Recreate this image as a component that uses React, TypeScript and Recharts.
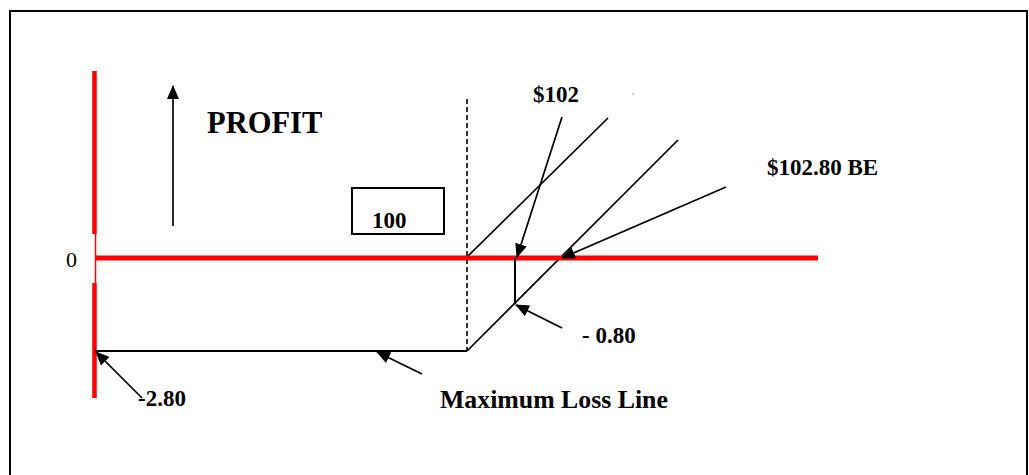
import React from 'react';
import { LineChart, Line, XAxis, YAxis, ReferenceArea, ReferenceDot } from 'recharts';

// Diagram units: 1 unit = 10 px in both directions; y = 0 is the zero-profit line.
type Pt = { x: number; y: number };

const redAxisUpper: Pt[] = [{ x: 9.45, y: 18.7 }, { x: 9.45, y: 2.4 }];
const redAxisGap: Pt[] = [{ x: 9.55, y: 2.4 }, { x: 9.55, y: -2.5 }];
const redAxisLower: Pt[] = [{ x: 9.45, y: -2.5 }, { x: 9.45, y: -14.0 }];
const zeroLine: Pt[] = [{ x: 9.6, y: 0 }, { x: 81.8, y: 0 }];
const maxLossLine: Pt[] = [{ x: 9.5, y: -9.3 }, { x: 46.7, y: -9.3 }];
const payoffLine: Pt[] = [{ x: 46.7, y: -9.3 }, { x: 67.8, y: 11.8 }];
const premiumFreeLine: Pt[] = [{ x: 46.7, y: 0.1 }, { x: 60.8, y: 14.0 }];
const strikeDash: Pt[] = [{ x: 46.7, y: 15.9 }, { x: 46.7, y: -9.3 }];
const atStrike102: Pt[] = [{ x: 51.5, y: 0 }, { x: 51.5, y: -4.6 }];

const profitArrow: Pt[] = [{ x: 17.3, y: 3.2 }, { x: 17.3, y: 17.2 }];
const arrow102: Pt[] = [{ x: 56.2, y: 14.1 }, { x: 51.7, y: 0.1 }];
const arrowBE: Pt[] = [{ x: 72.6, y: 7.1 }, { x: 56.2, y: 0 }];
const arrow080: Pt[] = [{ x: 56.2, y: -7.0 }, { x: 51.6, y: -4.7 }];
const arrowMaxLoss: Pt[] = [{ x: 42.2, y: -11.6 }, { x: 37.7, y: -9.4 }];
const arrow280: Pt[] = [{ x: 14.2, y: -14.0 }, { x: 9.6, y: -9.4 }];

const labelTexts = ['$102', '$102.80 BE', '- 0.80', '-2.80', 'Maximum Loss Line', 'PROFIT', '100', '0'];
const labelAnchors: Pt[] = [
  { x: 53.3, y: 15.6 },
  { x: 76.7, y: 8.3 },
  { x: 58.2, y: -8.5 },
  { x: 13.8, y: -14.8 },
  { x: 44.0, y: -15.0 },
  { x: 20.7, y: 12.5 },
  { x: 37.2, y: 3.0 },
  { x: 6.6, y: -0.9 },
];
const labelSizes = [23, 23, 23, 23, 25.8, 30.5, 23, 22];
const labelBold = [true, true, true, true, true, true, true, false];

const strikeBox = { x1: 35.2, x2: 44.4, y1: 2.4, y2: 7.0 };
const frame = { x1: 1.0, x2: 102.7, y1: -24, y2: 24.7 };

const FONT = '"Liberation Serif", "Times New Roman", serif';

const makeLabel = (text: string, size: number, bold: boolean) => (props: any) => {
  const vb = props.viewBox || {};
  return (
    <text
      x={vb.x + (vb.width || 0) / 2}
      y={vb.y + (vb.height || 0) / 2}
      fontFamily={FONT}
      fontSize={size}
      fontWeight={bold ? 'bold' : 'normal'}
      fill="#000"
      textAnchor="start"
    >
      {text}
    </text>
  );
};

export default function App() {
  const seg = (data: Pt[], key: string, stroke: string, width: number, extra: any = {}) => (
    <Line
      key={key}
      name={key}
      data={data}
      dataKey="y"
      type="linear"
      stroke={stroke}
      strokeWidth={width}
      dot={false}
      activeDot={false}
      legendType="none"
      isAnimationActive={false}
      strokeLinecap="butt"
      {...extra}
    />
  );
  const arrow = { markerEnd: 'url(#arrowHead)' };

  return (
    <div style={{ position: 'fixed', left: 0, top: 0, width: 1029, height: 475, background: '#fff', overflow: 'hidden' }}>
      <LineChart width={1029} height={475} margin={{ top: 0, right: 0, bottom: 0, left: 0 }}>
        <defs>
          <marker
            id="arrowHead"
            viewBox="0 0 14 12"
            refX="13"
            refY="6"
            markerWidth="14"
            markerHeight="12"
            markerUnits="userSpaceOnUse"
            orient="auto"
          >
            <path d="M0,0 L14,6 L0,12 Z" fill="#000" />
          </marker>
        </defs>
        <XAxis type="number" dataKey="x" domain={[0, 102.9]} hide allowDataOverflow />
        <YAxis type="number" domain={[-21.7, 25.8]} hide width={0} allowDataOverflow />

        <ReferenceArea {...frame} fill="none" stroke="#000" strokeWidth={2} ifOverflow="visible" />
        <ReferenceArea {...strikeBox} fill="#fff" stroke="#000" strokeWidth={2} fillOpacity={1} />

        {seg(redAxisUpper, 'redAxisUpper', '#ff0000', 4.5)}
        {seg(redAxisGap, 'redAxisGap', '#ff0000', 1.5)}
        {seg(redAxisLower, 'redAxisLower', '#ff0000', 4.5)}
        {seg(strikeDash, 'strikeDash', '#000', 1.6, { strokeDasharray: '5 3' })}
        {seg(maxLossLine, 'maxLossLine', '#000', 2)}
        {seg(payoffLine, 'payoffLine', '#000', 1.7)}
        {seg(premiumFreeLine, 'premiumFreeLine', '#000', 1.7)}
        {seg(zeroLine, 'zeroLine', '#ff0000', 5)}
        {seg(atStrike102, 'atStrike102', '#000', 2)}

        {seg(profitArrow, 'profitArrow', '#000', 1.7, arrow)}
        {seg(arrow102, 'arrow102', '#000', 1.7, arrow)}
        {seg(arrowBE, 'arrowBE', '#000', 1.7, arrow)}
        {seg(arrow080, 'arrow080', '#000', 1.7, arrow)}
        {seg(arrowMaxLoss, 'arrowMaxLoss', '#000', 1.7, arrow)}
        {seg(arrow280, 'arrow280', '#000', 1.7, arrow)}

        <ReferenceDot x={63.3} y={16.4} r={0.8} fill="#999" stroke="none" />

        {labelTexts.map((t, i) => (
          <ReferenceDot
            key={t}
            x={labelAnchors[i].x}
            y={labelAnchors[i].y}
            r={0}
            fill="none"
            stroke="none"
            label={{ content: makeLabel(t, labelSizes[i], labelBold[i]) } as any}
          />
        ))}
      </LineChart>
    </div>
  );
}
